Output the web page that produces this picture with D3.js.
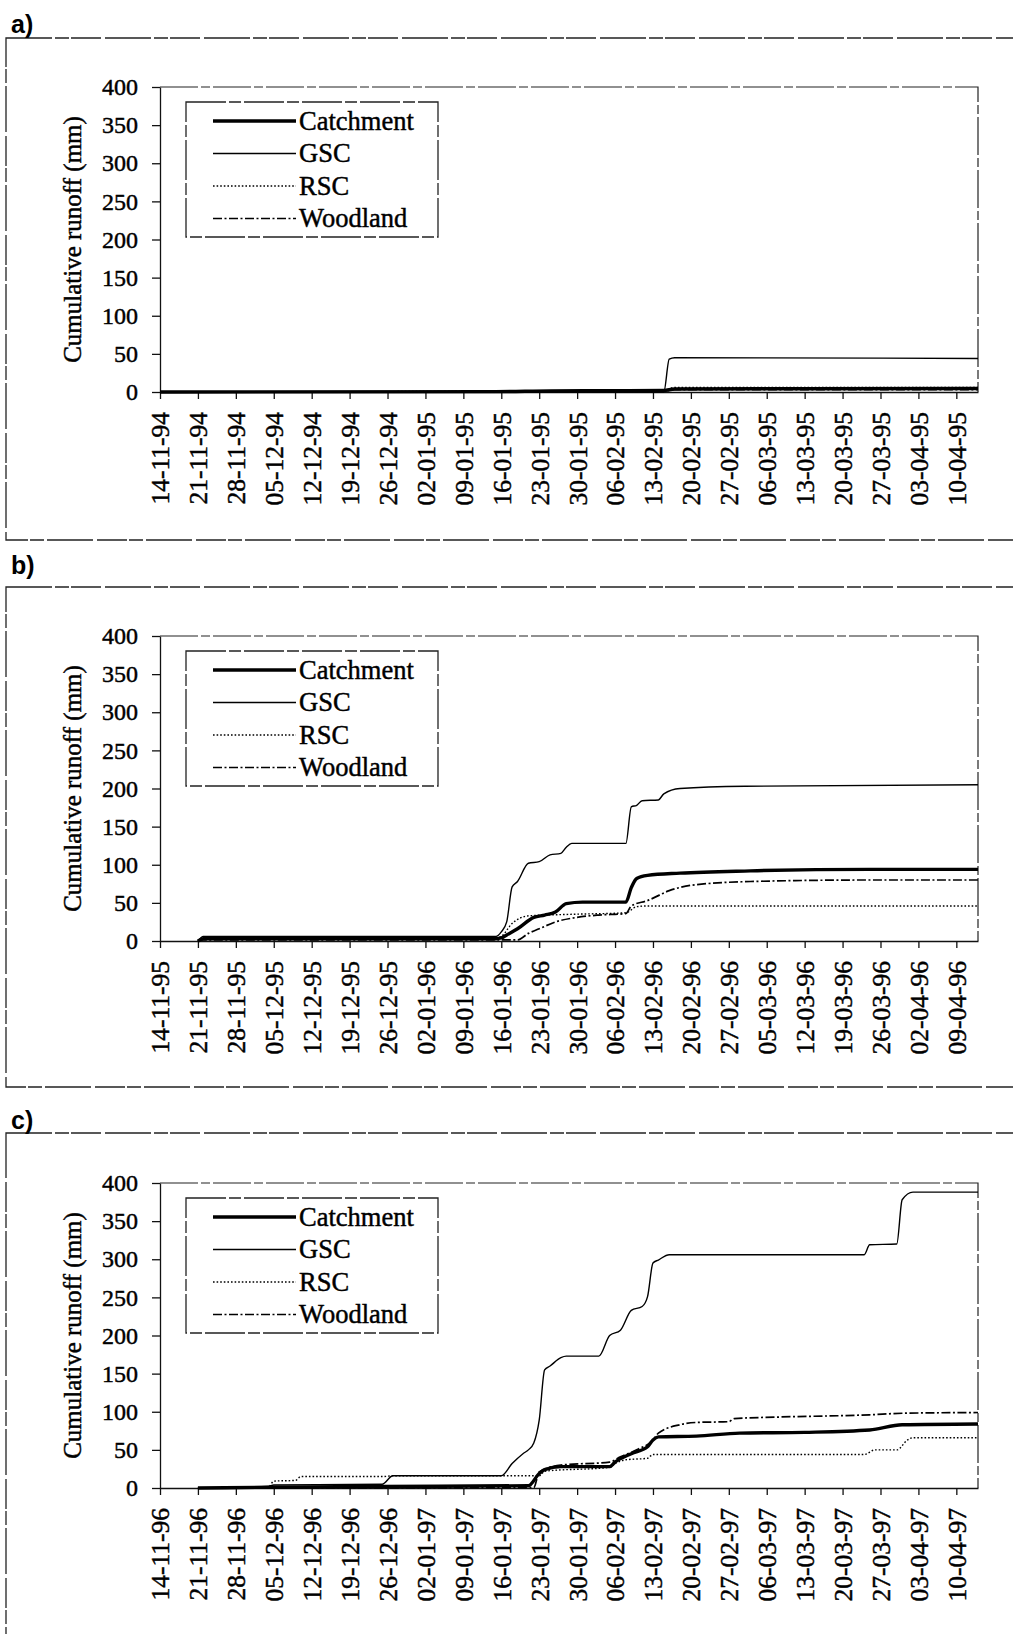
<!DOCTYPE html>
<html lang="en">
<head>
<meta charset="UTF-8">
<title>Cumulative runoff</title>
<script src="https://d3js.org/d3.v7.min.js"></script>
<style>
  body { margin: 0; background: #fff; }
  svg text { font-family: "Liberation Serif", "Times New Roman", serif; fill: #000; stroke: #000; stroke-width: 0.45px; }
  .panel-label { font-family: "Liberation Sans", Arial, sans-serif !important; font-weight: bold; font-size: 25px; stroke-width: 0; }
  .panel-box { fill: none; stroke: #222; stroke-width: 1.3; stroke-dasharray: 46 3 14 2 30 4; }
  .frame { fill: none; stroke: #222; stroke-width: 1.2; stroke-dasharray: 38 3 9 3; }
  .axis path, .axis line { stroke: #111; stroke-width: 1.3; }
  .axis text { font-size: 24px; }
  .xaxis text { font-size: 25.5px; }
  .ylabel { font-size: 25px; }
  .legend-box { fill: #fff; stroke: #222; stroke-width: 1.3; stroke-dasharray: 40 3 12 3; }
  .legend text { font-size: 26.5px; }
  .line { fill: none; stroke: #000; }
  .catch { stroke-width: 3.4; }
  .gsc { stroke-width: 1.4; }
  .rsc { stroke-width: 1.4; stroke-dasharray: 1.6 2; }
  .wood { stroke-width: 1.7; stroke-dasharray: 9 2.5 2 2.5; }
</style>
</head>
<body>
<svg width="1013" height="1634"></svg>
<script>
// tick labels (weekly) for each season
const ticksA = ["14-11-94","21-11-94","28-11-94","05-12-94","12-12-94","19-12-94","26-12-94","02-01-95","09-01-95","16-01-95","23-01-95","30-01-95","06-02-95","13-02-95","20-02-95","27-02-95","06-03-95","13-03-95","20-03-95","27-03-95","03-04-95","10-04-95"];
const ticksB = ["14-11-95","21-11-95","28-11-95","05-12-95","12-12-95","19-12-95","26-12-95","02-01-96","09-01-96","16-01-96","23-01-96","30-01-96","06-02-96","13-02-96","20-02-96","27-02-96","05-03-96","12-03-96","19-03-96","26-03-96","02-04-96","09-04-96"];
const ticksC = ["14-11-96","21-11-96","28-11-96","05-12-96","12-12-96","19-12-96","26-12-96","02-01-97","09-01-97","16-01-97","23-01-97","30-01-97","06-02-97","13-02-97","20-02-97","27-02-97","06-03-97","13-03-97","20-03-97","27-03-97","03-04-97","10-04-97"];
const yTicks = [0, 50, 100, 150, 200, 250, 300, 350, 400];

const seriesNames = ["Catchment", "GSC", "RSC", "Woodland"];

// a) 1994-95  [date, cumulative runoff mm]
const catchA = [["14-11-94",0],["15-01-95",0.5],["25-01-95",1.5],["15-02-95",2],["17-02-95",4],["14-04-95",4.5]];
const gscA = [["14-11-94",0],["15-02-95",0],["16-02-95",43],["17-02-95",45],["14-04-95",44]];
const rscA = [["14-11-94",0],["16-01-95",1],["15-02-95",2],["17-02-95",6],["14-04-95",6]];
const woodA = [["14-11-94",0],["16-01-95",0.5],["15-02-95",1],["17-02-95",3],["14-04-95",3]];

// b) 1995-96
const catchB = [["21-11-95",0],["22-11-95",3],["15-01-96",3],["16-01-96",4],["17-01-96",8],["19-01-96",16],["22-01-96",31],["24-01-96",34],["26-01-96",38],["28-01-96",49],["31-01-96",51],["08-02-96",51],["09-02-96",70],["10-02-96",82],["12-02-96",86],["18-02-96",89],["02-03-96",92],["24-03-96",94],["13-04-96",94]];
const gscB = [["21-11-95",0],["22-11-95",6],["15-01-96",6],["16-01-96",12],["17-01-96",25],["18-01-96",71],["19-01-96",78],["21-01-96",102],["23-01-96",104],["25-01-96",113],["27-01-96",115],["28-01-96",123],["29-01-96",128],["08-02-96",128],["09-02-96",176],["10-02-96",178],["11-02-96",184],["14-02-96",185],["15-02-96",193],["18-02-96",200],["01-03-96",203],["13-04-96",205]];
const rscB = [["21-11-95",0],["22-11-95",4],["15-01-96",4],["16-01-96",6],["18-01-96",23],["21-01-96",33],["29-01-96",35],["08-02-96",37],["10-02-96",45],["12-02-96",46],["13-04-96",46]];
const woodB = [["21-11-95",0],["22-11-95",1.5],["19-01-96",1.5],["21-01-96",10],["23-01-96",16],["26-01-96",25],["30-01-96",31],["03-02-96",34],["08-02-96",36],["09-02-96",46],["12-02-96",53],["16-02-96",66],["20-02-96",73],["02-03-96",78],["24-03-96",80],["13-04-96",80]];

// c) 1996-97
const catchC = [["21-11-96",0],["04-12-96",1],["25-12-96",2],["21-01-97",3],["23-01-97",19],["24-01-97",24],["27-01-97",28],["05-02-97",28],["06-02-97",34],["09-02-97",45],["12-02-97",54],["13-02-97",63],["14-02-97",67],["21-02-97",68],["01-03-97",72],["13-03-97",73],["25-03-97",76],["31-03-97",83],["14-04-97",84]];
const gscC = [["21-11-96",0],["04-12-96",2],["05-12-96",4],["25-12-96",5],["27-12-96",16],["16-01-97",16],["18-01-97",32],["20-01-97",45],["21-01-97",50],["22-01-97",59],["23-01-97",89],["24-01-97",155],["25-01-97",160],["27-01-97",171],["28-01-97",173],["03-02-97",173],["05-02-97",200],["07-02-97",207],["09-02-97",233],["11-02-97",238],["12-02-97",251],["13-02-97",295],["14-02-97",299],["16-02-97",306],["24-03-97",306],["25-03-97",319],["30-03-97",320],["31-03-97",378],["02-04-97",388],["14-04-97",388]];
const rscC = [["21-11-96",0],["04-12-96",1],["05-12-96",9],["09-12-96",10],["10-12-96",15],["25-12-96",15],["27-12-96",16],["23-01-97",16],["24-01-97",22],["05-02-97",27],["06-02-97",32],["08-02-97",37],["12-02-97",39],["13-02-97",44],["24-03-97",44],["26-03-97",50],["30-03-97",50],["01-04-97",63],["02-04-97",66],["14-04-97",66]];
const woodC = [["21-11-96",0],["22-01-97",0.5],["23-01-97",21],["27-01-97",30],["05-02-97",34],["07-02-97",41],["10-02-97",50],["13-02-97",63],["14-02-97",72],["18-02-97",83],["21-02-97",86],["27-02-97",87],["28-02-97",91],["08-03-97",93],["25-03-97",96],["31-03-97",98],["14-04-97",99]];

const parse = d3.timeParse("%d-%m-%y");
const svg = d3.select("svg");
const serif = '"Liberation Serif", "Times New Roman", serif';

const panels = [
  { label: "a)", labelY: 33, boxTop: 38, boxBottom: 540, plotTop: 87, ticks: ticksA, data: [catchA, gscA, rscA, woodA] },
  { label: "b)", labelY: 574, boxTop: 587, boxBottom: 1087, plotTop: 636, ticks: ticksB, data: [catchB, gscB, rscB, woodB] },
  { label: "c)", labelY: 1129, boxTop: 1133, boxBottom: 1660, plotTop: 1183, ticks: ticksC, data: [catchC, gscC, rscC, woodC] }
];
const classes = ["catch", "gsc", "rsc", "wood"];
const plotLeft = 160, plotRight = 978, plotH = 305;

panels.forEach(p => {
  const start = parse(p.ticks[0]);
  const x = d3.scaleTime()
    .domain([start, d3.timeDay.offset(start, 151)])
    .range([plotLeft, plotRight]);
  const y = d3.scaleLinear().domain([0, 400]).range([p.plotTop + plotH, p.plotTop]);

  // outer panel box + label
  svg.append("rect").attr("class", "panel-box")
    .attr("x", 6).attr("y", p.boxTop).attr("width", 1030).attr("height", p.boxBottom - p.boxTop);
  svg.append("text").attr("class", "panel-label").attr("x", 11).attr("y", p.labelY).text(p.label);

  // plot frame (top and right)
  svg.append("path").attr("class", "frame")
    .attr("d", `M${plotLeft},${y(400)}H${plotRight}V${y(0)}`);

  // axes
  svg.append("g").attr("class", "axis")
    .attr("transform", `translate(${plotLeft},0)`)
    .call(d3.axisLeft(y).tickValues(yTicks).tickSize(8).tickPadding(14).tickSizeOuter(0))
    .attr("font-family", serif);

  const xa = svg.append("g").attr("class", "axis xaxis")
    .attr("transform", `translate(0,${y(0)})`)
    .call(d3.axisBottom(x).tickValues(p.ticks.map(parse)).tickSize(7).tickSizeOuter(0)
      .tickFormat(d3.timeFormat("%d-%m-%y")))
    .attr("font-family", serif);
  xa.selectAll("text")
    .attr("transform", "rotate(-90)")
    .attr("text-anchor", "end")
    .attr("x", -20).attr("y", 0).attr("dy", "0.35em");

  svg.append("text").attr("class", "ylabel")
    .attr("transform", `translate(72,${p.plotTop + plotH / 2}) rotate(-90)`)
    .attr("text-anchor", "middle").attr("dy", "0.35em")
    .text("Cumulative runoff (mm)");

  // series
  const line = d3.line()
    .x(d => x(parse(d[0])))
    .y(d => y(d[1]))
    .curve(d3.curveMonotoneX);
  [2, 3, 1, 0].forEach(i => {
    svg.append("path").attr("class", "line " + classes[i]).attr("d", line(p.data[i]));
  });

  // legend
  const lg = svg.append("g").attr("class", "legend")
    .attr("transform", `translate(186,${p.plotTop + 15})`);
  lg.append("rect").attr("class", "legend-box").attr("width", 252).attr("height", 135);
  seriesNames.forEach((name, i) => {
    const cy = 19 + i * 32.5;
    lg.append("line").attr("class", "line " + classes[i])
      .attr("x1", 27).attr("x2", 110).attr("y1", cy).attr("y2", cy);
    lg.append("text").attr("x", 113).attr("y", cy).attr("dy", "0.33em").text(name);
  });
});
</script>
</body>
</html>
